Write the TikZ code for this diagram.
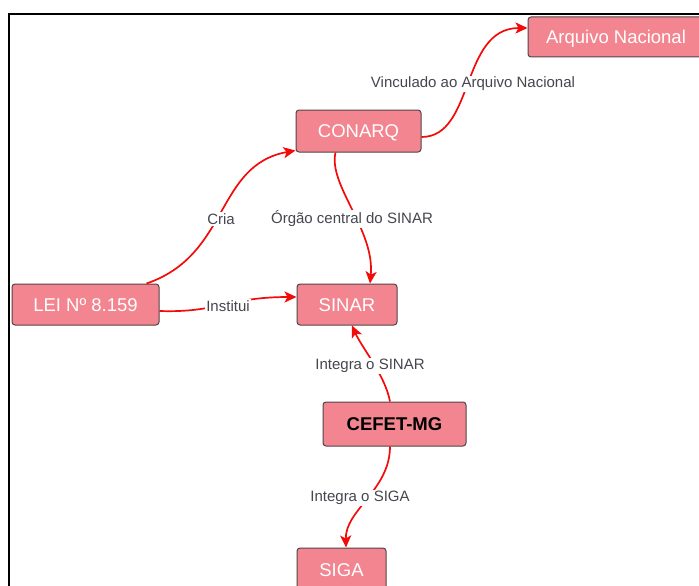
\documentclass[tikz,border=0pt]{standalone}
\usepackage{fontspec}
\setmainfont{Liberation Sans}
\usetikzlibrary{arrows.meta}
\definecolor{boxfill}{RGB}{242,133,143}
\definecolor{boxline}{RGB}{80,70,72}
\definecolor{labeltext}{RGB}{70,70,78}
\definecolor{edgered}{RGB}{245,10,10}
\tikzset{
  box/.style={draw=boxline, line width=1pt, fill=boxfill, rounded corners=3pt,
    text=white, font=\fontsize{18.5}{20}\selectfont, inner sep=0pt,
    text height=13.5pt, text depth=0.5pt},
  lbl/.style={fill=white, inner sep=1pt, text=labeltext, font=\fontsize{15}{17}\selectfont},
  rel/.style={draw=edgered, line width=1.7pt, -{Stealth[length=12pt,width=11pt,inset=3pt]}},
}
\begin{document}
\begin{tikzpicture}[x=1pt,y=-1pt]
\useasboundingbox (0,0) rectangle (699,586);
\clip (0,0) rectangle (699,586);
\fill[white] (0,0) rectangle (699,586);
\draw[black, line width=2pt] (9,600) -- (9,14) -- (710,14);

\node[box, minimum width=176pt, minimum height=40pt] (arq) at (616,37) {Arquivo Nacional};
\node[box, minimum width=125pt, minimum height=42pt] (conarq) at (358.5,131) {CONARQ};
\node[box, minimum width=100pt, minimum height=41pt] (sinar) at (347,304.5) {SINAR};
\node[box, minimum width=147pt, minimum height=41pt] (lei) at (85.5,304.5) {LEI Nº 8.159};
\node[box, minimum width=143pt, minimum height=44pt, text=black, font=\fontsize{18.5}{20}\selectfont\bfseries] (cefet) at (394.5,424) {CEFET-MG};
\node[box, minimum width=89pt, minimum height=44pt] (siga) at (341.5,570) {SIGA};

\draw[rel] ([xshift=-13pt]lei.north east) .. controls (230,255) and (215,165) .. ([yshift=2pt]conarq.south west);
\draw[rel] ([yshift=-6.5pt]lei.east) .. controls (218,313) and (228,297) .. ([yshift=7.5pt]sinar.west);
\draw[rel] ([xshift=-23pt]conarq.south) .. controls (328,185) and (375,230) .. ([xshift=23pt]sinar.north);
\draw[rel] ([yshift=-6pt]conarq.east) .. controls (475,137) and (460,28) .. ([yshift=9pt]arq.west);
\draw[rel] ([xshift=-4.5pt]cefet.north) .. controls (385,375) and (362,348) .. ([xshift=5pt]sinar.south);
\draw[rel] ([xshift=-4.5pt]cefet.south) .. controls (390,490) and (345,510) .. ([xshift=4.5pt]siga.north);

\node[lbl] (l1) at (473,84) {Vinculado ao Arquivo Nacional};
\node[lbl] (l2) at (221,219) {Cria};
\node[lbl] (l3) at (352,219) {Órgão central do SINAR};
\node[lbl] (l4) at (228,306) {Institui};
\node[lbl] (l5) at (370,366) {Integra o SINAR};
\node[lbl] (l6) at (360,498) {Integra o SIGA};
\end{tikzpicture}
\end{document}
